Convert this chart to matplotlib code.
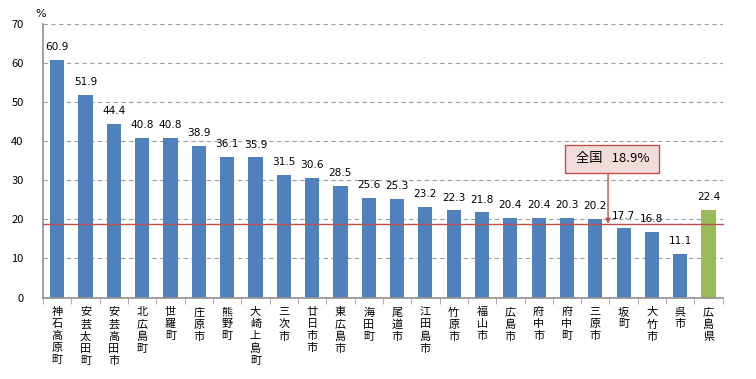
import matplotlib
matplotlib.use('Agg')
import matplotlib.pyplot as plt
import numpy as np

plt.rcParams['font.family'] = ['Noto Sans CJK JP', 'DejaVu Sans']

# 市町名と割合（%）
names = ['神石高原町', '安芸太田町', '安芸高田市', '北広島町', '世羅町', '庄原市',
         '熊野町', '大崎上島町', '三次市', '廿日市市', '東広島市', '海田町',
         '尾道市', '江田島市', '竹原市', '福山市', '広島市', '府中市',
         '府中町', '三原市', '坂町', '大竹市', '呉市', '広島県']
values = [60.9, 51.9, 44.4, 40.8, 40.8, 38.9, 36.1, 35.9, 31.5, 30.6, 28.5, 25.6,
          25.3, 23.2, 22.3, 21.8, 20.4, 20.4, 20.3, 20.2, 17.7, 16.8, 11.1, 22.4]
national = 18.9
national_label = '\u00a0全国\u00a0\u00a0 18.9%\u00a0'
yticks = [0, 10, 20, 30, 40, 50, 60, 70]

fig = plt.figure(figsize=(7.56, 3.79), dpi=100)
ax = fig.add_axes([0.057, 0.215, 0.899, 0.721])

x = np.arange(len(names))
colors = ['#4F81BD'] * (len(names) - 1) + ['#9BBB59']
ax.bar(x, values, width=0.5, color=colors, zorder=2)

for xi, v in zip(x, values):
    ax.text(xi, v + 2.0, f'{v:.1f}', ha='center', va='bottom', fontsize=7.6,
            family='DejaVu Sans', zorder=3)

# 全国平均ライン
ax.axhline(national, color='#C0504D', lw=1, zorder=3, clip_on=False)

ax.annotate('', xy=(19.45, national), xytext=(19.45, 31.9),
            arrowprops=dict(arrowstyle='-|>', color='#C0504D', lw=1,
                            mutation_scale=7, shrinkA=0, shrinkB=0), zorder=4)
ax.text(19.6, 35.5, national_label, ha='center', va='center', fontsize=9.5,
        bbox=dict(boxstyle='square,pad=0.55', fc='#F2DCDB', ec='#C0504D', lw=1),
        zorder=5)

ax.set_xlim(-0.5, len(names) - 0.5)
ax.set_ylim(0, 70)
ax.set_yticks(yticks)
ax.yaxis.grid(True, color='#A0A0A0', linestyle=(0, (4, 3)), lw=0.8, zorder=0)
ax.tick_params(axis='y', length=0, labelsize=8, pad=14)

# 縦書きラベル
ax.set_xticks(x)
ax.set_xticklabels(['\n'.join(n) for n in names], fontsize=8, va='top',
                   linespacing=1.25)
ax.set_xticks(np.arange(-0.5, len(names), 1), minor=True)
ax.tick_params(axis='x', which='major', length=0, pad=7)
ax.tick_params(axis='x', which='minor', length=4, color='#A0A0A0', direction='out')

for s in ['top', 'right']:
    ax.spines[s].set_visible(False)
for s in ['left', 'bottom']:
    ax.spines[s].set_color('#909090')
    ax.spines[s].set_linewidth(1.2)

fig.text(0.047, 0.955, '%', fontsize=8, family='DejaVu Sans')

fig.savefig('out.png', dpi=100)
